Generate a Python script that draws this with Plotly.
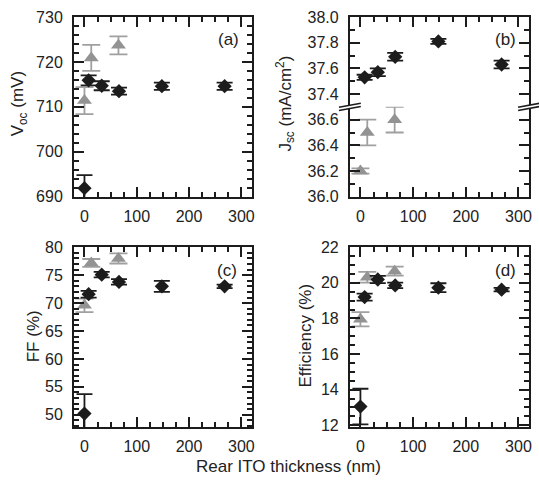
import plotly.graph_objects as go

# Rear ITO thickness (nm)
thk_black = [0, 8, 33, 66, 148, 268]
thk_gray = [0, 13, 65]

# Open-circuit voltage (mV)
voc_black = [691.9, 715.9, 714.7, 713.5, 714.6, 714.6]
voc_black_err = [2.9, 1.1, 1.0, 0.8, 0.8, 0.8]
voc_gray = [711.4, 720.9, 723.7]
voc_gray_err = [3.0, 2.9, 2.0]

# Short-circuit current density (mA/cm2), no value drawn for the bare sample
thk_black_jsc = [8, 33, 66, 148, 268]
jsc_black = [37.53, 37.57, 37.69, 37.81, 37.63]
jsc_black_err = [0.02, 0.03, 0.03, 0.02, 0.03]
jsc_gray = [36.20, 36.50, 36.60]
jsc_gray_err = [0.02, 0.10, 0.10]

# Fill factor (%)
ff_black = [50.2, 71.6, 75.1, 73.8, 73.0, 73.0]
ff_black_err = [3.5, 0.6, 0.5, 0.5, 1.0, 0.3]
ff_gray = [69.6, 77.2, 78.0]
ff_gray_err = [1.2, 0.7, 0.9]

# Efficiency (%)
eff_black = [13.05, 19.2, 20.19, 19.86, 19.73, 19.62]
eff_black_err = [1.0, 0.2, 0.2, 0.15, 0.25, 0.1]
eff_gray = [17.96, 20.32, 20.66]
eff_gray_err = [0.4, 0.3, 0.25]

BLACK = "#1c1c1c"
GRAY = "#939393"
GRAY_ERR = "#a0a0a0"
FONT = "Liberation Sans, Arial, sans-serif"

W, H = 539, 483
ML, MR, MT, MB = 74, 7, 17, 56
PW, PH = W - ML - MR, H - MT - MB


def px_x(px):
    return (px - ML) / PW


def px_y(py):
    return (H - MB - py) / PH


def dx(p):
    return p / PW


def dy(p):
    return p / PH


XL = [0, px_x(253)]
XR = [px_x(351.7), 1.0]
YT = [px_y(196.7), 1.0]
YB = [0, px_y(247.3)]
YSPLIT = (YT[0] + YT[1]) / 2

fig = go.Figure()


def add_gray(x, y, err, xa, ya):
    fig.add_trace(go.Scatter(
        x=x, y=y, mode="markers",
        marker=dict(symbol="triangle-up", size=13, color=GRAY),
        error_y=dict(type="data", array=err, color=GRAY_ERR, thickness=1.8, width=9),
        xaxis=xa, yaxis=ya, showlegend=False,
    ))


def add_black(x, y, err, xa, ya):
    fig.add_trace(go.Scatter(
        x=x, y=y, mode="markers",
        marker=dict(symbol="diamond", size=11, color=BLACK),
        error_y=dict(type="data", array=err, color=BLACK, thickness=1.8, width=8),
        xaxis=xa, yaxis=ya, showlegend=False,
    ))


add_gray(thk_gray, voc_gray, voc_gray_err, "x", "y")
add_black(thk_black, voc_black, voc_black_err, "x", "y")
# Jsc: black series on the upper segment, gray on the lower segment of the broken axis
add_gray(thk_gray, jsc_gray, jsc_gray_err, "x3", "y3")
add_black(thk_black_jsc, jsc_black, jsc_black_err, "x2", "y2")
add_gray(thk_gray, ff_gray, ff_gray_err, "x4", "y4")
add_black(thk_black, ff_black, ff_black_err, "x4", "y4")
add_gray(thk_gray, eff_gray, eff_gray_err, "x5", "y5")
add_black(thk_black, eff_black, eff_black_err, "x5", "y5")

tickfont = dict(family=FONT, size=16, color="#222222")
XRANGE = [-20, 320]


def xax(domain, anchor, side="bottom", labels=True, mirror="ticks"):
    return dict(
        domain=domain, anchor=anchor, range=XRANGE, side=side,
        tickmode="linear", tick0=0, dtick=100,
        ticks="inside", ticklen=10, tickwidth=1.6, tickcolor=BLACK,
        minor=dict(dtick=25, tick0=0, ticks="inside", ticklen=5, tickwidth=1.6, tickcolor=BLACK),
        showline=True, linewidth=2, linecolor=BLACK, mirror=mirror,
        showgrid=False, zeroline=False, showticklabels=labels,
        tickfont=tickfont, ticklabelstandoff=4,
    )


def yax(domain, anchor, rng, dtick, minor_dtick, tick0, fmt=None):
    d = dict(
        domain=domain, anchor=anchor, range=rng,
        tickmode="linear", tick0=tick0, dtick=dtick,
        ticks="inside", ticklen=10, tickwidth=1.6, tickcolor=BLACK,
        minor=dict(dtick=minor_dtick, tick0=tick0, ticks="inside", ticklen=5,
                   tickwidth=1.6, tickcolor=BLACK),
        showline=True, linewidth=2, linecolor=BLACK, mirror="ticks",
        showgrid=False, zeroline=False,
        tickfont=tickfont, ticklabelstandoff=6,
    )
    if fmt:
        d["tickformat"] = fmt
    return d


fig.update_layout(
    width=W, height=H,
    margin=dict(l=ML, r=MR, t=MT, b=MB),
    paper_bgcolor="white", plot_bgcolor="white",
    font=dict(family=FONT, size=16, color="#222222"),
    xaxis=xax(XL, "y"),
    yaxis=yax(YT, "x", [690, 730], 10, 2, 690),
    xaxis2=xax(XR, "y2", side="top", labels=False, mirror=False),
    yaxis2=yax([YSPLIT, YT[1]], "x2", [37.3, 38.0], 0.2, 0.1, 36.0, ".1f"),
    xaxis3=xax(XR, "y3", mirror=False),
    yaxis3=yax([YT[0], YSPLIT], "x3", [36.0, 36.7], 0.2, 0.1, 36.0, ".1f"),
    xaxis4=xax(XL, "y4"),
    yaxis4=yax(YB, "x4", [47.8, 80], 5, 1, 50),
    xaxis5=xax(XR, "y5"),
    yaxis5=yax(YB, "x5", [11.9, 22], 2, 0.5, 12),
)
fig.update_layout(xaxis2=dict(matches="x3"))

# Axis break marks on both spines of the Jsc panel
shapes = []
for sx in (XR[0], XR[1]):
    yc = YSPLIT
    hw, slope, gap = 11, 2.0, 1.6
    # white mask hiding the spine between the two strokes
    shapes.append(dict(
        type="path", xref="paper", yref="paper", layer="above",
        path=(f"M {sx - dx(hw)},{yc - dy(gap + slope)} L {sx + dx(hw)},{yc - dy(gap - slope)} "
              f"L {sx + dx(hw)},{yc + dy(gap + slope)} L {sx - dx(hw)},{yc + dy(gap - slope)} Z"),
        fillcolor="white", line=dict(width=0),
    ))
    for off in (gap, -gap):
        shapes.append(dict(
            type="line", xref="paper", yref="paper", layer="above",
            x0=sx - dx(hw), y0=yc + dy(off - slope), x1=sx + dx(hw), y1=yc + dy(off + slope),
            line=dict(color=BLACK, width=1.6),
        ))
fig.update_layout(shapes=shapes)

title_font = dict(family=FONT, size=17, color="#222222")
annotations = [
    dict(text="V<sub>oc</sub> (mV)", x=px_x(19), y=px_y(104), textangle=-90),
    dict(text="J<sub>sc</sub> (mA/cm<sup>2</sup>)", x=px_x(287), y=px_y(104), textangle=-90),
    dict(text="FF (%)", x=px_x(33), y=px_y(336), textangle=-90),
    dict(text="Efficiency (%)", x=px_x(307), y=px_y(335), textangle=-90),
    dict(text="Rear ITO thickness (nm)", x=px_x(290), y=px_y(466)),
    dict(text="(a)", x=px_x(230), y=px_y(39)),
    dict(text="(b)", x=px_x(508), y=px_y(39)),
    dict(text="(c)", x=px_x(228), y=px_y(270)),
    dict(text="(d)", x=px_x(508), y=px_y(270)),
]
for a in annotations:
    a.update(xref="paper", yref="paper", showarrow=False, xanchor="center",
             yanchor="middle", font=title_font)
fig.update_layout(annotations=annotations)

fig.write_html("out.html")
